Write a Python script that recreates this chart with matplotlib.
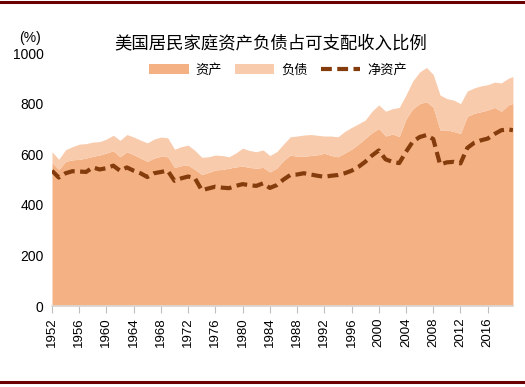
import matplotlib.pyplot as plt
import numpy as np
from matplotlib.lines import Line2D

plt.rcParams['font.family'] = ['Liberation Sans', 'Noto Sans CJK SC', 'DejaVu Sans']

# Ratios to disposable income (%)
years = list(range(1952, 2020)) + [2019.7]
total = [610, 580, 618, 630, 640, 642, 648, 650, 660, 675,
         655, 678, 668, 656, 645, 660, 668, 665, 620, 630,
         636, 615, 588, 590, 597, 595, 590, 605, 624, 615,
         610, 617, 595, 610, 640, 669, 672, 676, 678, 675,
         672, 672, 669, 690, 706, 720, 735, 770, 795, 770,
         780, 785, 835, 890, 925, 943, 915, 834, 820, 814,
         800, 850, 862, 870, 875, 885, 882, 900, 907]
assets = [567, 540, 572, 578, 580, 585, 592, 597, 605, 614,
          590, 610, 598, 585, 572, 585, 592, 590, 548, 555,
          557, 540, 520, 528, 538, 540, 545, 550, 553, 548,
          545, 548, 530, 545, 575, 597, 592, 592, 595, 598,
          604, 595, 590, 605, 620, 640, 663, 685, 702, 672,
          680, 670, 740, 780, 800, 808, 785, 696, 696, 690,
          682, 750, 762, 768, 775, 785, 770, 795, 801]
net = [535, 508, 525, 533, 532, 530, 548, 540, 545, 555,
       535, 548, 535, 525, 510, 525, 530, 535, 495, 505,
       512, 505, 458, 465, 472, 468, 466, 475, 482, 478,
       475, 485, 467, 478, 500, 518, 520, 525, 520, 515,
       511, 515, 518, 525, 535, 550, 570, 595, 615, 580,
       570, 565, 610, 650, 668, 676, 660, 560, 568, 570,
       564, 625, 645, 655, 662, 680, 695, 698, 695]
xticks = list(range(1952, 2017, 4))

fig = plt.figure(figsize=(5.25, 3.87), dpi=100)
ax = fig.add_axes([0.099, 0.209, 0.878, 0.654])

ax.fill_between(years, 0, assets, color='#F4B183', lw=0, label='资产')
ax.fill_between(years, assets, total, color='#F8CBAD', lw=0, label='负债')
ax.plot(years, net, color='#843C0C', lw=3, ls=(0, (2.6, 1.3)), label='净资产')

ax.set_xlim(1952, 2019.7)
ax.set_ylim(0, 1000)
ax.set_yticks(range(0, 1001, 200))
ax.set_xticks(xticks)
ax.set_xticklabels([str(y) for y in xticks], rotation=90, fontsize=9.5)
ax.tick_params(axis='y', length=0, labelsize=10, pad=6)
ax.tick_params(axis='x', length=5, color='#BFBFBF', pad=3)
for s in ['top', 'right', 'left']:
    ax.spines[s].set_visible(False)
ax.spines['bottom'].set_color('#D9D9D9')
ax.spines['bottom'].set_linewidth(1.2)

fig.text(0.515, 0.888, '美国居民家庭资产负债占可支配收入比例', ha='center', va='center',
         fontsize=12.5, family=['Noto Sans CJK SC'])
fig.text(0.057, 0.902, '(%)', ha='center', va='center', fontsize=10)

ax.legend(loc='upper center', bbox_to_anchor=(0.49, 1.005), ncol=3, frameon=False,
          prop={'family': 'Noto Sans CJK SC', 'size': 9.5}, handlelength=3.0,
          handletextpad=0.5, columnspacing=1.0)

for yy in [0.994, 0.013]:
    fig.add_artist(Line2D([0, 1], [yy, yy], color='#6B0000', lw=2.2, transform=fig.transFigure))

fig.savefig('out.png', dpi=100)
